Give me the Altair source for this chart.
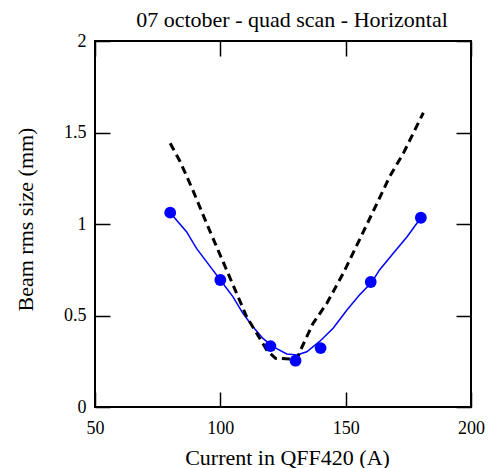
import altair as alt
import pandas as pd

# Measured beam size (points)
meas_current = [80, 100, 120, 130, 140, 160, 180]
meas_size = [1.062, 0.694, 0.333, 0.253, 0.322, 0.683, 1.034]

# Fitted curve (blue solid line)
fit_current = [80, 86.5, 90.5, 95, 100, 105, 109, 113, 117, 121, 126.5, 130.5,
               134.5, 139.5, 145, 150.5, 155.5, 160.5, 163.5, 169, 174.5, 180]
fit_size = [1.062, 0.958, 0.867, 0.785, 0.694, 0.603, 0.512, 0.439, 0.375, 0.330,
            0.290, 0.284, 0.302, 0.357, 0.430, 0.530, 0.612, 0.683, 0.749, 0.840,
            0.930, 1.034]

# Model curve (black dashed line)
model_current = [80, 84, 89, 94.5, 98.5, 102.5, 106.5, 110.5, 114.5, 118.5, 122,
                 130.5, 132, 137, 142.5, 149, 155.5, 162.5, 167.5, 173, 181]
model_size = [1.441, 1.340, 1.186, 1.004, 0.876, 0.749, 0.621, 0.493, 0.403, 0.311,
              0.266, 0.261, 0.311, 0.457, 0.567, 0.730, 0.913, 1.113, 1.258, 1.386,
              1.608]

x_ticks = [50, 100, 150, 200]
y_ticks = [0, 0.5, 1, 1.5, 2]

df_meas = pd.DataFrame({"current": meas_current, "size": meas_size})
df_fit = pd.DataFrame({"current": fit_current, "size": fit_size})
df_model = pd.DataFrame({"current": model_current, "size": model_size})

FONT = "Liberation Serif"
xs = alt.Scale(domain=[50, 200], nice=False, zero=False)
ys = alt.Scale(domain=[0, 2], nice=False, zero=False)

common = dict(offset=-15, tickSize=15, domain=False, grid=False,
              tickColor="black", tickWidth=1.5)

x_bottom = alt.Axis(orient="bottom", values=x_ticks, title="Current in QFF420 (A)",
                    labelFlush=False, labelPadding=12, labelFontSize=18,
                    labelFont=FONT, titleFont=FONT, labelColor="black",
                    titleColor="black", titleFontWeight="normal",
                    titleFontSize=22, titleX=192, titleY=72,
                    titleBaseline="alphabetic", titleAlign="center", **common)
y_left = alt.Axis(orient="left", values=y_ticks, format="~g", title="Beam rms size (mm)",
                  labelPadding=9, labelFontSize=18,
                  labelFont=FONT, titleFont=FONT, labelColor="black",
                  titleColor="black", titleFontWeight="normal",
                  titleFontSize=22,
                  titleX=-78, titleY=178, titleAngle=270,
                  titleBaseline="alphabetic", titleAlign="center", **common)
x_top = alt.Axis(orient="top", values=x_ticks, labels=False, title=None, **common)
y_right = alt.Axis(orient="right", values=y_ticks, labels=False, title=None, **common)

fit = alt.Chart(df_fit).mark_line(color="#0000ff", strokeWidth=1.5).encode(
    x=alt.X("current:Q", scale=xs, axis=x_top),
    y=alt.Y("size:Q", scale=ys, axis=y_right),
)
model = alt.Chart(df_model).mark_line(
    color="black", strokeWidth=3, strokeDash=[8, 5]
).encode(
    x=alt.X("current:Q", scale=xs, axis=x_bottom),
    y=alt.Y("size:Q", scale=ys, axis=y_left),
)
pts = alt.Chart(df_meas).mark_circle(color="#0000ff", opacity=1, size=140).encode(
    x=alt.X("current:Q", scale=xs, axis=None),
    y=alt.Y("size:Q", scale=ys, axis=None),
)

chart = alt.layer(fit, model, pts).properties(
    width=376,
    height=366,
    background="white",
    autosize=alt.AutoSizeParams(type="none"),
    padding={"left": 95, "top": 41, "right": 21, "bottom": 61},
    title=alt.TitleParams(
        "07 october - quad scan - Horizontal", font=FONT, fontSize=22,
        fontWeight="normal", anchor="middle", frame="group", offset=14,
        baseline="alphabetic", dx=9, dy=31, color="black",
    ),
).configure_view(
    stroke="black", strokeWidth=2
)

chart.save("out.html", embed_options={"renderer": "svg", "actions": False})
